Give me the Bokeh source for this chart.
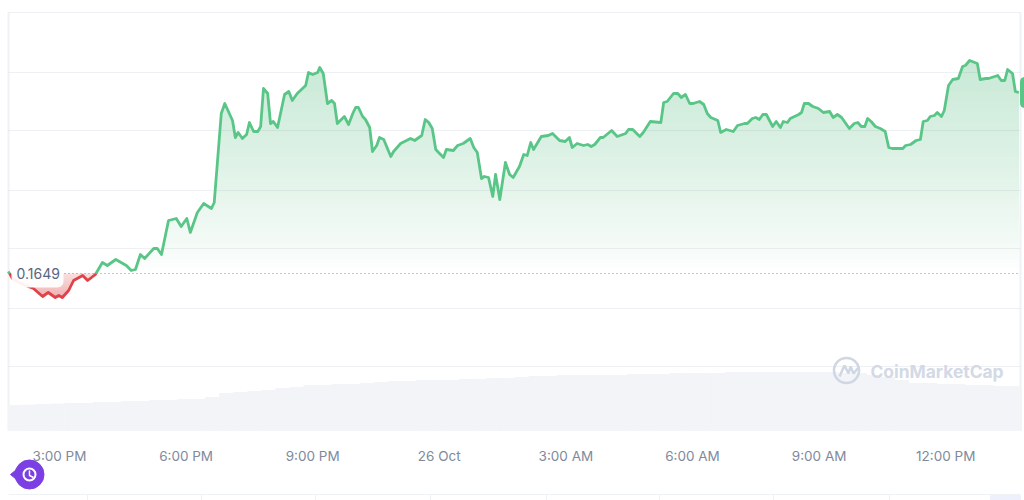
from bokeh.core.properties import value
from bokeh.embed import file_html
from bokeh.models import FixedTicker, Range1d
from bokeh.plotting import figure
from bokeh.resources import INLINE

import numpy as np

FONT = 'Inter'
GREEN = '#59c687'
RED = '#df4249'
GRID = '#eff2f5'
MUTED = '#808a9d'

BASE_PRICE = 0.1649

# minutes after 3:00 PM on the 25th
minutes = [
    -73, -70, -67, -58, -48, -37, -24, -16, -6, -1, 4, 13, 20, 33, 40, 51, 61, 68, 80, 90, 95, 102, 108, 115, 121,
    134, 139, 145, 155, 166, 173, 181, 186, 196, 205, 216, 220, 230, 235, 246, 250, 254, 260, 266, 270, 276, 282,
    286, 290, 296, 300, 304, 310, 320, 326, 331, 338, 350, 354, 360, 367, 370, 375, 381, 387, 391, 395, 405, 411,
    417, 421, 425, 431, 435, 441, 445, 451, 455, 461, 471, 475, 485, 499, 505, 515, 520, 525, 530, 535, 539, 546,
    550, 560, 566, 574, 584, 589, 594, 600, 604, 610, 616, 620, 626, 634, 640, 645, 654, 660, 665, 670, 674, 685,
    695, 701, 711, 719, 725, 729, 736, 745, 751, 756, 761, 769, 773, 785, 793, 805, 809, 815, 825, 830, 840, 855,
    859, 864, 873, 879, 884, 890, 896, 901, 910, 916, 921, 926, 936, 940, 948, 958, 964, 974, 978, 985, 990, 995,
    1000, 1005, 1014, 1019, 1025, 1029, 1035, 1039, 1051, 1055, 1059, 1065, 1071, 1079, 1086, 1095, 1100, 1106,
    1112, 1118, 1123, 1130, 1135, 1140, 1145, 1149, 1154, 1160, 1167, 1174, 1179, 1184, 1199, 1203, 1210, 1218,
    1224, 1228, 1234, 1238, 1244, 1248, 1254, 1258, 1264, 1270, 1278, 1284, 1288, 1294, 1305, 1309, 1317, 1321,
    1334, 1339, 1344, 1348, 1355, 1359, 1364,
]
prices = [
    0.16500, 0.16485, 0.16465, 0.16445, 0.16430, 0.16415, 0.16375, 0.16395, 0.16370, 0.16380, 0.16370, 0.16405,
    0.16455, 0.16480, 0.16455, 0.16485, 0.16545, 0.16530, 0.16560, 0.16540, 0.16530, 0.16505, 0.16510, 0.16585,
    0.16565, 0.16615, 0.16615, 0.16585, 0.16755, 0.16765, 0.16725, 0.16765, 0.16695, 0.16795, 0.16840, 0.16815,
    0.16845, 0.17290, 0.17340, 0.17255, 0.17170, 0.17195, 0.17165, 0.17185, 0.17245, 0.17200, 0.17200, 0.17225,
    0.17415, 0.17390, 0.17240, 0.17250, 0.17220, 0.17385, 0.17400, 0.17355, 0.17390, 0.17430, 0.17495, 0.17485,
    0.17495, 0.17520, 0.17490, 0.17340, 0.17355, 0.17340, 0.17240, 0.17275, 0.17235, 0.17290, 0.17320, 0.17320,
    0.17275, 0.17260, 0.17220, 0.17100, 0.17130, 0.17170, 0.17160, 0.17075, 0.17100, 0.17140, 0.17165, 0.17155,
    0.17180, 0.17260, 0.17245, 0.17215, 0.17110, 0.17095, 0.17070, 0.17110, 0.17105, 0.17130, 0.17140, 0.17165,
    0.17120, 0.17095, 0.16965, 0.16975, 0.16970, 0.16875, 0.16985, 0.16860, 0.17045, 0.16985, 0.16970, 0.17025,
    0.17085, 0.17080, 0.17145, 0.17110, 0.17175, 0.17180, 0.17190, 0.17155, 0.17150, 0.17170, 0.17120, 0.17140,
    0.17130, 0.17135, 0.17125, 0.17135, 0.17170, 0.17170, 0.17205, 0.17175, 0.17190, 0.17210, 0.17210, 0.17175,
    0.17195, 0.17250, 0.17245, 0.17345, 0.17350, 0.17390, 0.17390, 0.17370, 0.17385, 0.17340, 0.17340, 0.17350,
    0.17335, 0.17290, 0.17270, 0.17255, 0.17195, 0.17210, 0.17200, 0.17230, 0.17240, 0.17240, 0.17265, 0.17270,
    0.17260, 0.17285, 0.17285, 0.17225, 0.17250, 0.17220, 0.17250, 0.17245, 0.17265, 0.17285, 0.17295, 0.17340,
    0.17340, 0.17325, 0.17315, 0.17295, 0.17300, 0.17270, 0.17285, 0.17270, 0.17240, 0.17215, 0.17240, 0.17245,
    0.17225, 0.17225, 0.17265, 0.17250, 0.17225, 0.17215, 0.17200, 0.17120, 0.17115, 0.17115, 0.17130, 0.17135,
    0.17155, 0.17160, 0.17250, 0.17255, 0.17275, 0.17280, 0.17295, 0.17275, 0.17305, 0.17430, 0.17460, 0.17465,
    0.17525, 0.17530, 0.17555, 0.17540, 0.17460, 0.17465, 0.17465, 0.17480, 0.17455, 0.17455, 0.17510, 0.17490,
    0.17400, 0.17395,
]

# one bar per 20 minutes, in millions
volumes = [
    50, 51, 52, 53, 54, 54, 56, 56, 58, 58, 60, 60, 62, 62, 66, 74, 76, 78, 80, 84, 86, 90, 90, 92,
    92, 94, 96, 98, 98, 100, 100, 100, 102, 102, 104, 104, 106, 108, 108, 110, 110, 110, 110, 110, 112, 112, 112, 114,
    114, 114, 114, 116, 116, 116, 116, 116, 116, 116, 116, 114, 114, 110, 106, 100, 94, 94, 92, 92, 90, 90, 88, 88,
]

tick_minutes = [0, 180, 360, 540, 720, 900, 1080, 1260]
tick_labels = ['3:00 PM', '6:00 PM', '9:00 PM', '26 Oct', '3:00 AM', '6:00 AM', '9:00 AM', '12:00 PM']
grid_prices = [0.17795, 0.17495, 0.17205, 0.16905, 0.16615, 0.16315, 0.16025]


# page pixels to chart units, for the decorations only
def x_at(px):
    return 1.4218 * (px - 59)


def y_at(py):
    return (17855 - 5 * py) / 100000


def add_crossings(xs, ys, level):
    out_x, out_y = [xs[0]], [ys[0]]
    for i in range(1, len(xs)):
        if (ys[i - 1] - level) * (ys[i] - level) < 0:
            t = (level - ys[i - 1]) / (ys[i] - ys[i - 1])
            out_x.append(xs[i - 1] + t * (xs[i] - xs[i - 1]))
            out_y.append(level)
        out_x.append(xs[i])
        out_y.append(ys[i])
    return np.array(out_x), np.array(out_y)


def mix(c1, c2, t):
    return '#%02x%02x%02x' % tuple(int(round(a + (b - a) * t)) for a, b in zip(c1, c2))


p = figure(
    width=1024,
    height=500,
    x_range=Range1d(x_at(0), x_at(1024)),
    y_range=Range1d(y_at(500), y_at(0)),
    output_backend='svg',
    toolbar_location=None,
    min_border=0,
)
p.extra_y_ranges = {'volume': Range1d(-140, 860)}

p.grid.visible = False
p.outline_line_color = None
p.yaxis.visible = False
p.background_fill_color = 'white'

p.xaxis.fixed_location = y_at(430)
p.xaxis.ticker = FixedTicker(ticks=tick_minutes)
p.xaxis.major_label_overrides = dict(zip(tick_minutes, tick_labels))
p.xaxis.axis_line_color = None
p.xaxis.major_tick_line_color = None
p.xaxis.minor_tick_line_color = None
p.xaxis.major_label_standoff = 11
p.xaxis.major_label_text_font = FONT
p.xaxis.major_label_text_font_size = '13.5px'
p.xaxis.major_label_text_color = MUTED

# frame
p.segment([x_at(8), x_at(1020)], y_at(12), [x_at(8), x_at(1020)], y_at(430), color=GRID, line_width=2)

# table header peeking in at the bottom of the page
p.segment(x_at(8), y_at(494), x_at(1020), y_at(494), color=GRID, line_width=1)
p.segment([x_at(px) for px in (87, 201, 315, 430, 546, 659, 773, 889)], y_at(494),
          [x_at(px) for px in (87, 201, 315, 430, 546, 659, 773, 889)], y_at(500), color=GRID, line_width=1)
p.quad(left=x_at(990), right=x_at(1020), top=y_at(495), bottom=y_at(500), color='#eef1fb')

# volume
bar_minutes = x_at(8) + 10 + 20 * np.arange(len(volumes))
p.vbar(x=bar_minutes, top=volumes, bottom=0, width=20, color='#f2f4f8', y_range_name='volume')

# stacked opaque bands stand in for the gradient under the line
fill_x = np.arange(minutes[0], minutes[-1] + 1.0)
fill_y = np.interp(fill_x, minutes, prices)

GREEN_LEVELS = np.linspace(BASE_PRICE, 0.1760, 45)
for i, level in enumerate(GREEN_LEVELS):
    t = (i / (len(GREEN_LEVELS) - 1)) ** 0.8
    p.varea(x=fill_x, y1=level, y2=np.maximum(fill_y, level), fill_color=mix((255, 255, 255), (198, 232, 212), t))

RED_LEVELS = np.linspace(BASE_PRICE, 0.1638, 12)
for i, level in enumerate(RED_LEVELS):
    t = i / (len(RED_LEVELS) - 1)
    p.varea(x=fill_x, y1=level, y2=np.minimum(fill_y, level), fill_color=mix((249, 222, 222), (241, 178, 178), t))

# grid shows through the fill
p.segment(x_at(8), grid_prices, x_at(1020), grid_prices, color='#7f8ea3', alpha=0.13, line_width=1)

# reference price
p.line([x_at(8), x_at(1020)], [BASE_PRICE, BASE_PRICE], color=MUTED, line_width=1, line_dash='1 3')

line_x, line_y = add_crossings(minutes, prices, BASE_PRICE)
p.line(line_x, np.where(line_y >= BASE_PRICE, line_y, np.nan), color=GREEN, line_width=2.8, line_join='round')
p.line(line_x, np.where(line_y <= BASE_PRICE, line_y, np.nan), color=RED, line_width=2.8, line_join='round')

# price tag
p.quad(left=x_at(11), right=x_at(63), top=y_at(262), bottom=y_at(287), fill_color='white', fill_alpha=0.93,
       line_color=None, border_radius=6)
p.text([x_at(16)], [BASE_PRICE], text=['0.1649'], text_font=value(FONT), text_font_size='14px',
       text_color='#58667e', text_baseline='middle')

# current price pill, cut by the page edge
p.quad(left=x_at(1020), right=x_at(1030), top=y_at(77), bottom=y_at(107), color=GREEN, border_radius=4)

# watermark
LOGO = '#cfd6e4'
p.scatter([x_at(846)], [y_at(370)], size=25, marker='circle', fill_color=None, line_color=LOGO, line_width=2.5)
p.line([x_at(px) for px in (839, 844, 848, 850, 853, 858)], [y_at(py) for py in (376, 365, 373, 366, 373, 367)],
       color=LOGO, line_width=2.5)
p.text([x_at(870)], [y_at(371)], text=['CoinMarketCap'], text_font=value(FONT), text_font_size='17.4px',
       text_font_style='bold', text_color='#d3d9e5', text_baseline='middle')

# history button
PURPLE = '#7b3fe4'
p.patch([x_at(10), x_at(27), x_at(27)], [y_at(474), y_at(460), y_at(488)], color=PURPLE)
p.scatter([x_at(29)], [y_at(474)], size=29, marker='circle', color=PURPLE)
p.scatter([x_at(29)], [y_at(474)], size=12, marker='circle', fill_color=None, line_color='white', line_width=2)
p.line([x_at(29), x_at(29), x_at(33)], [y_at(470), y_at(475), y_at(477)], color='white', line_width=1.5)

open("out.html", "w").write(file_html(p, INLINE))
